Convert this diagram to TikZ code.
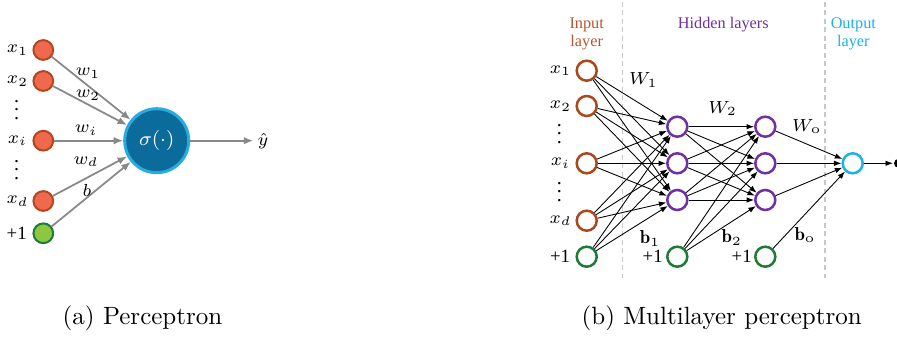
\documentclass[tikz,border=0pt]{standalone}
\usepackage{amsmath}
\usepackage{amssymb}
\usepackage{fontspec}
\usepackage{xcolor}
\usetikzlibrary{arrows.meta}
\newfontfamily\tnr{Liberation Serif}
\newcommand{\vdotsmall}{\vbox{\baselineskip3.3pt\lineskiplimit0pt\hbox{.}\hbox{.}\hbox{.}}}
\definecolor{infill}{HTML}{F0684E}
\definecolor{inbd}{HTML}{B4461C}
\definecolor{bfill}{HTML}{8DC63F}
\definecolor{bbd}{HTML}{1F7A36}
\definecolor{sigfill}{HTML}{0B6C9C}
\definecolor{sigbd}{HTML}{29ABE2}
\definecolor{wgray}{HTML}{888888}
\definecolor{sepgray}{HTML}{C8C8C8}
\definecolor{inlay}{HTML}{A9481C}
\definecolor{inlaytxt}{HTML}{B5552F}
\definecolor{hidcol}{HTML}{7030A0}
\definecolor{outcol}{HTML}{1CB1E9}

\begin{document}
\begin{tikzpicture}[x=0.4pt,y=-0.4pt,font=\fontsize{7.5}{9}\selectfont,inner sep=0.8pt,
    inunit/.style={circle,inner sep=0pt,minimum size=7.9pt,line width=0.8pt,draw=inbd,fill=infill},
    biasunit/.style={inunit,draw=bbd,fill=bfill},
    sigunit/.style={circle,inner sep=0pt,minimum size=25.6pt,line width=1.2pt,draw=sigbd,fill=sigfill,text=white,font=\fontsize{8}{9.6}\selectfont},
    gw/.style={draw=wgray,line width=0.7pt,-{Latex[length=3.8pt,width=3pt]}},
    neuron/.style={circle,inner sep=0pt,minimum size=8pt,line width=1pt,fill=white},
    mw/.style={draw=black,line width=0.35pt,-{Latex[length=3pt,width=2.2pt]}},
    sep/.style={draw=sepgray,line width=0.6pt,dash pattern=on 2pt off 1.4pt},
    dotsnode/.style={inner sep=0pt,font=\tnr\fontsize{8}{9}\selectfont},
    laytxt/.style={align=center,font=\tnr\fontsize{6.5}{7.3}\selectfont}]
    \useasboundingbox (0,0) rectangle (897,337);

    % (a) perceptron
    \node[inunit] (x1) at (43.3,50) {};
    \node[inunit] (x2) at (43.3,81) {};
    \node[inunit] (xi) at (43.3,140.7) {};
    \node[inunit] (xd) at (43.3,201) {};
    \node[biasunit] (x0) at (43.3,233.3) {};
    \node[sigunit] (sig) at (156.7,140.7) {$\sigma(\cdot)$};
    \node (lx1) at (17.5,50) {$x_1$};
    \node (lx2) at (17.5,81) {$x_2$};
    \node[dotsnode] (ldota) at (16.7,110) {\vdotsmall};
    \node (lxi) at (17.5,140.7) {$x_i$};
    \node[dotsnode] (ldotb) at (16.7,170) {\vdotsmall};
    \node (lxd) at (17.5,201) {$x_d$};
    \node (lx0) at (16.7,233.3) {\tnr +1};
    \foreach \n in {x1,x2,xi,xd,x0} \draw[gw] (\n) -- (sig);
    \coordinate (yend) at (253.3,140.7);
    \draw[gw] (sig) -- (yend);
    \node[anchor=west] (yhat) at (255,140.7) {$\hat{y}$};
    \node (w1) at (88,73) {$w_1$};
    \node (w2) at (88,95) {$w_2$};
    \node (wi) at (86,130) {$w_i$};
    \node (wd) at (86,161.7) {$w_d$};
    \node (wb) at (87,190) {$b$};

    % (b) multilayer perceptron
    \coordinate (sepat) at (622.7,2);
    \coordinate (sepab) at (622.7,278);
    \coordinate (sepbt) at (825,2);
    \coordinate (sepbb) at (825,278);
    \draw[sep] (sepat) -- (sepab);
    \draw[sep] (sepbt) -- (sepbb);
    \node[laytxt,text=inlaytxt] (inlab) at (586.7,34) {Input\\layer};
    \node[laytxt,text=hidcol] (hidlab) at (723.3,25) {Hidden layers};
    \node[laytxt,text=outcol] (outlab) at (853.3,34) {Output\\layer};

    \node[neuron,draw=inlay] (i1) at (586.7,70.7) {};
    \node[neuron,draw=inlay] (i2) at (586.7,106) {};
    \node[neuron,draw=inlay] (ii) at (586.7,163.3) {};
    \node[neuron,draw=inlay] (id) at (586.7,220.7) {};
    \node[neuron,draw=bbd] (ib) at (586.7,256.7) {};
    \node[neuron,draw=hidcol] (h1) at (677.3,126.7) {};
    \node[neuron,draw=hidcol] (h2) at (677.3,163.3) {};
    \node[neuron,draw=hidcol] (h3) at (677.3,200) {};
    \node[neuron,draw=bbd] (hb) at (677.3,256.7) {};
    \node[neuron,draw=hidcol] (g1) at (765.3,126.7) {};
    \node[neuron,draw=hidcol] (g2) at (765.3,163.3) {};
    \node[neuron,draw=hidcol] (g3) at (765.3,200) {};
    \node[neuron,draw=bbd] (gb) at (765.3,256.7) {};
    \node[neuron,draw=outcol] (o) at (852.7,163.3) {};

    \node (li1) at (560.5,70.7) {$x_1$};
    \node (li2) at (560.5,106) {$x_2$};
    \node[dotsnode] (ldotc) at (559.3,134) {\vdotsmall};
    \node (lii) at (560.5,163.3) {$x_i$};
    \node[dotsnode] (ldotd) at (559.3,192) {\vdotsmall};
    \node (lid) at (560.5,220.7) {$x_d$};
    \node (lib) at (560,256.7) {\tnr +1};
    \node (lhb) at (652.7,256.7) {\tnr +1};
    \node (lgb) at (741.7,256.7) {\tnr +1};

    \foreach \s in {i1,i2,ii,id,ib} \foreach \t in {h1,h2,h3} \draw[mw] (\s) -- (\t);
    \foreach \s in {h1,h2,h3,hb} \foreach \t in {g1,g2,g3} \draw[mw] (\s) -- (\t);
    \foreach \s in {g1,g2,g3,gb} \draw[mw] (\s) -- (o);
    \coordinate (oend) at (893,163.3);
    \draw[mw] (o) -- (oend);
    \fill (898.5,163.3) circle (1.8pt);

    \node (W1) at (643.3,80) {$W_1$};
    \node (W2) at (722.7,108.3) {$W_2$};
    \node (Wo) at (806.7,126.7) {$W_\mathrm{o}$};
    \node (b1) at (650,238.3) {$\mathbf{b}_1$};
    \node (b2) at (731.7,237.3) {$\mathbf{b}_2$};
    \node (bo) at (805,235) {$\mathbf{b}_\mathrm{o}$};

    % captions
    \node[font=\normalsize] (capa) at (142.5,318) {(a) Perceptron};
    \node[font=\normalsize] (capb) at (721.7,318) {(b) Multilayer perceptron};
\end{tikzpicture}
\end{document}
